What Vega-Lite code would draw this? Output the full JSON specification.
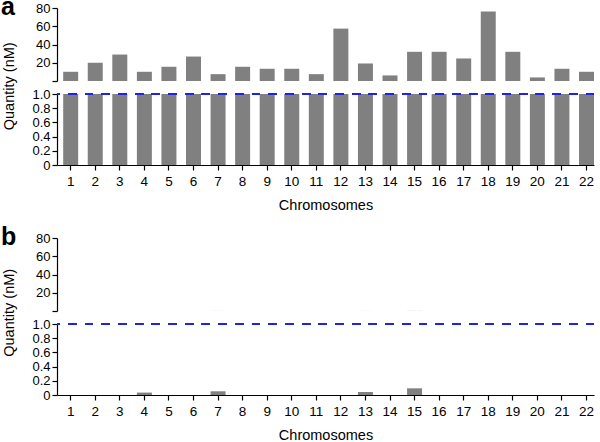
{
  "$schema": "https://vega.github.io/schema/vega-lite/v6.json",
  "padding": {"left": 0, "top": -6, "right": 5, "bottom": 5},
  "datasets": {
    "a": [
      {"chr": 1, "value": 10.1}, {"chr": 2, "value": 20.0}, {"chr": 3, "value": 29.0},
      {"chr": 4, "value": 10.1}, {"chr": 5, "value": 15.6}, {"chr": 6, "value": 26.8},
      {"chr": 7, "value": 7.5}, {"chr": 8, "value": 15.6}, {"chr": 9, "value": 13.4},
      {"chr": 10, "value": 13.4}, {"chr": 11, "value": 7.5}, {"chr": 12, "value": 57.4},
      {"chr": 13, "value": 19.2}, {"chr": 14, "value": 6.1}, {"chr": 15, "value": 32.0},
      {"chr": 16, "value": 32.0}, {"chr": 17, "value": 24.7}, {"chr": 18, "value": 76.3},
      {"chr": 19, "value": 32.0}, {"chr": 20, "value": 3.9}, {"chr": 21, "value": 13.4},
      {"chr": 22, "value": 10.1}
    ],
    "b": [
      {"chr": 1, "value": 0}, {"chr": 2, "value": 0}, {"chr": 3, "value": 0},
      {"chr": 4, "value": 0.034}, {"chr": 5, "value": 0}, {"chr": 6, "value": 0},
      {"chr": 7, "value": 0.052}, {"chr": 8, "value": 0}, {"chr": 9, "value": 0},
      {"chr": 10, "value": 0}, {"chr": 11, "value": 0}, {"chr": 12, "value": 0},
      {"chr": 13, "value": 0.042}, {"chr": 14, "value": 0}, {"chr": 15, "value": 0.094},
      {"chr": 16, "value": 0}, {"chr": 17, "value": 0}, {"chr": 18, "value": 0},
      {"chr": 19, "value": 0}, {"chr": 20, "value": 0}, {"chr": 21, "value": 0},
      {"chr": 22, "value": 0}
    ]
  },
  "spacing": 13,
  "bounds": "flush",
  "vconcat": [
    {
      "width": 537, "height": 73,
      "data": {"name": "a"},
      "mark": {"type": "bar", "color": "#808080"},
      "encoding": {
        "x": {"field": "chr", "type": "ordinal", "scale": {"paddingInner": 0.39, "paddingOuter": 0.126, "align": 1}, "axis": null},
        "y": {"field": "value", "type": "quantitative",
              "scale": {"domain": [0, 80], "clamp": true, "nice": false},
              "axis": {"values": [0, 20, 40, 60, 80], "labelExpr": "datum.value == 0 ? '' : datum.label",
                       "title": "a", "titleAngle": 0, "titleAlign": "left", "titleBaseline": "alphabetic",
                       "titleX": -56.5, "titleY": 6.7, "titleFontSize": 25, "titleFontWeight": "bold"}}
      }
    },
    {
      "width": 537, "height": 71,
      "data": {"name": "a"},
      "layer": [
        {
          "mark": {"type": "bar", "color": "#808080"},
          "encoding": {
            "x": {"field": "chr", "type": "ordinal", "scale": {"paddingInner": 0.39, "paddingOuter": 0.126, "align": 1},
                  "axis": {"title": "Chromosomes", "labelAngle": 0}},
            "y": {"field": "value", "type": "quantitative",
                  "scale": {"domain": [0, 1], "clamp": true, "nice": false},
                  "axis": {"values": [0, 0.2, 0.4, 0.6, 0.8, 1], "labelOverlap": false, "tickCount": 6,
                           "labelExpr": "datum.value == 0 ? '0' : format(datum.value, '.1f')",
                           "title": "Quantity (nM)", "titleAlign": "center", "titleBaseline": "middle",
                           "titleX": -48, "titleY": -8.2}}
          }
        },
        {
          "mark": {"type": "rule", "color": "#2323dc", "strokeWidth": 2, "strokeDash": [8, 8.7]},
          "encoding": {"y": {"datum": 1, "type": "quantitative",
                  "axis": {"values": [0, 0.2, 0.4, 0.6, 0.8, 1], "labelOverlap": false, "tickCount": 6,
                           "labelExpr": "datum.value == 0 ? '0' : format(datum.value, '.1f')",
                           "title": "Quantity (nM)", "titleAlign": "center", "titleBaseline": "middle",
                           "titleX": -48, "titleY": -8.2}}}
        }
      ]
    },
    {
      "width": 537, "height": 47,
      "data": {"values": []},
      "mark": {"type": "point", "opacity": 0},
      "encoding": {}
    },
    {
      "width": 537, "height": 73,
      "data": {"name": "b"},
      "mark": {"type": "bar", "color": "#808080"},
      "encoding": {
        "x": {"field": "chr", "type": "ordinal", "scale": {"paddingInner": 0.39, "paddingOuter": 0.126, "align": 1}, "axis": null},
        "y": {"field": "value", "type": "quantitative",
              "scale": {"domain": [0, 80], "clamp": true, "nice": false},
              "axis": {"values": [0, 20, 40, 60, 80], "labelExpr": "datum.value == 0 ? '' : datum.label",
                       "title": "b", "titleAngle": 0, "titleAlign": "left", "titleBaseline": "alphabetic",
                       "titleX": -56.5, "titleY": 6.7, "titleFontSize": 25, "titleFontWeight": "bold"}}
      }
    },
    {
      "width": 537, "height": 71,
      "data": {"name": "b"},
      "layer": [
        {
          "mark": {"type": "bar", "color": "#808080"},
          "encoding": {
            "x": {"field": "chr", "type": "ordinal", "scale": {"paddingInner": 0.39, "paddingOuter": 0.126, "align": 1},
                  "axis": {"title": "Chromosomes", "labelAngle": 0}},
            "y": {"field": "value", "type": "quantitative",
                  "scale": {"domain": [0, 1], "clamp": true, "nice": false},
                  "axis": {"values": [0, 0.2, 0.4, 0.6, 0.8, 1], "labelOverlap": false, "tickCount": 6,
                           "labelExpr": "datum.value == 0 ? '0' : format(datum.value, '.1f')",
                           "title": "Quantity (nM)", "titleAlign": "center", "titleBaseline": "middle",
                           "titleX": -48, "titleY": -11.7}}
          }
        },
        {
          "mark": {"type": "rule", "color": "#2323dc", "strokeWidth": 2, "strokeDash": [8, 8.7]},
          "encoding": {"y": {"datum": 1, "type": "quantitative",
                  "axis": {"values": [0, 0.2, 0.4, 0.6, 0.8, 1], "labelOverlap": false, "tickCount": 6,
                           "labelExpr": "datum.value == 0 ? '0' : format(datum.value, '.1f')",
                           "title": "Quantity (nM)", "titleAlign": "center", "titleBaseline": "middle",
                           "titleX": -48, "titleY": -11.7}}}
        }
      ]
    }
  ],
  "config": {
    "font": "Liberation Sans",
    "view": {"stroke": null},
    "axis": {
      "grid": false, "domainColor": "#000000", "tickColor": "#000000", "labelColor": "#000000", "titleColor": "#000000",
      "labelFontSize": 13, "titleFontSize": 14.5, "titleFontWeight": "normal", "tickSize": 5, "labelPadding": 2,
      "domainWidth": 1.2, "tickWidth": 1.2
    },
    "axisX": {"labelPadding": 4, "titlePadding": 11, "labelFontSize": 13.5}
  }
}
